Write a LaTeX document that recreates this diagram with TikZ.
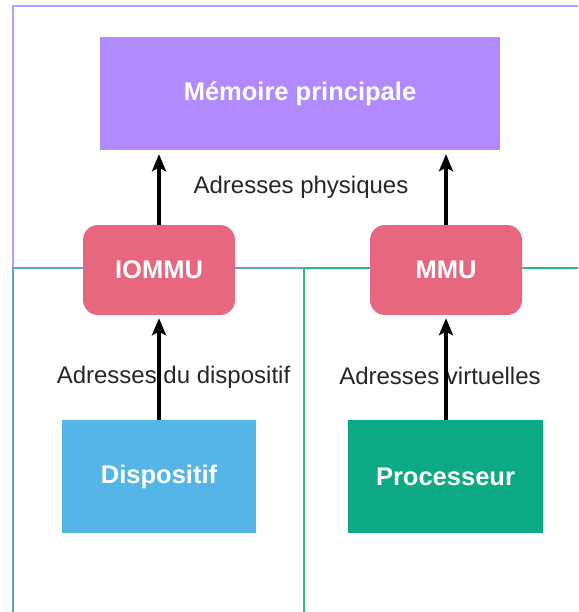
\documentclass[tikz,border=0pt]{standalone}
\usepackage{fontspec}
\setmainfont{Liberation Sans}
\usetikzlibrary{arrows.meta}
\definecolor{purpfill}{HTML}{B08AFE}
\definecolor{purpline}{HTML}{B99EFF}
\definecolor{pinkfill}{HTML}{E7687E}
\definecolor{bluefill}{HTML}{55B5E8}
\definecolor{blueline}{HTML}{5FA3CC}
\definecolor{greenfill}{HTML}{0CAA84}
\definecolor{greenline}{HTML}{2EB891}
\tikzset{
  boxnode/.style={inner sep=0pt, text=white, font=\fontsize{25.5}{30}\selectfont\bfseries},
  rbox/.style={boxnode, fill=pinkfill, rounded corners=15pt, minimum width=152pt, minimum height=90pt},
  lbl/.style={font=\fontsize{24}{28}\selectfont, text=black!85, inner sep=0pt},
  arr/.style={line width=3.2pt, draw=black, -{Stealth[length=17pt,width=14pt,inset=3.5pt]}},
  frame/.style={line width=2pt}
}
\begin{document}
\begin{tikzpicture}[x=1pt,y=-1pt]
\useasboundingbox (0,0) rectangle (578,612);
\clip (0,0) rectangle (578,612);
% frames
\draw[frame, purpline] (13,700) -- (13,6) -- (700,6);
\draw[frame, greenline] (304,700) -- (304,268) -- (700,268);
\draw[frame, blueline] (13,700) -- (13,268) -- (304,268);
% nodes
\node[boxnode, fill=purpfill, minimum width=400pt, minimum height=113pt] (mem) at (300,93.5) {Mémoire principale};
\node[rbox] (iommu) at (159,270) {IOMMU};
\node[rbox] (mmu) at (446,270) {MMU};
\node[boxnode, fill=bluefill, minimum width=194pt, minimum height=113pt] (disp) at (159,476.5) {Dispositif};
\node[boxnode, fill=greenfill, minimum width=195pt, minimum height=113pt] (proc) at (445.5,476.5) {Processeur};
% labels
\node[lbl] (lphys) at (301,187) {Adresses physiques};
\node[lbl] (ldisp) at (173.5,377) {Adresses du dispositif};
\node[lbl] (lvirt) at (440,376) {Adresses virtuelles};
% arrows
\draw[arr, shorten >=4pt] (iommu.north) -- (iommu.north |- mem.south);
\draw[arr, shorten >=4pt] (mmu.north) -- (mmu.north |- mem.south);
\draw[arr, shorten >=3pt] (disp.north) -- (disp.north |- iommu.south);
\draw[arr, shorten >=3pt] (mmu.south |- proc.north) -- (mmu.south);
\end{tikzpicture}
\end{document}
